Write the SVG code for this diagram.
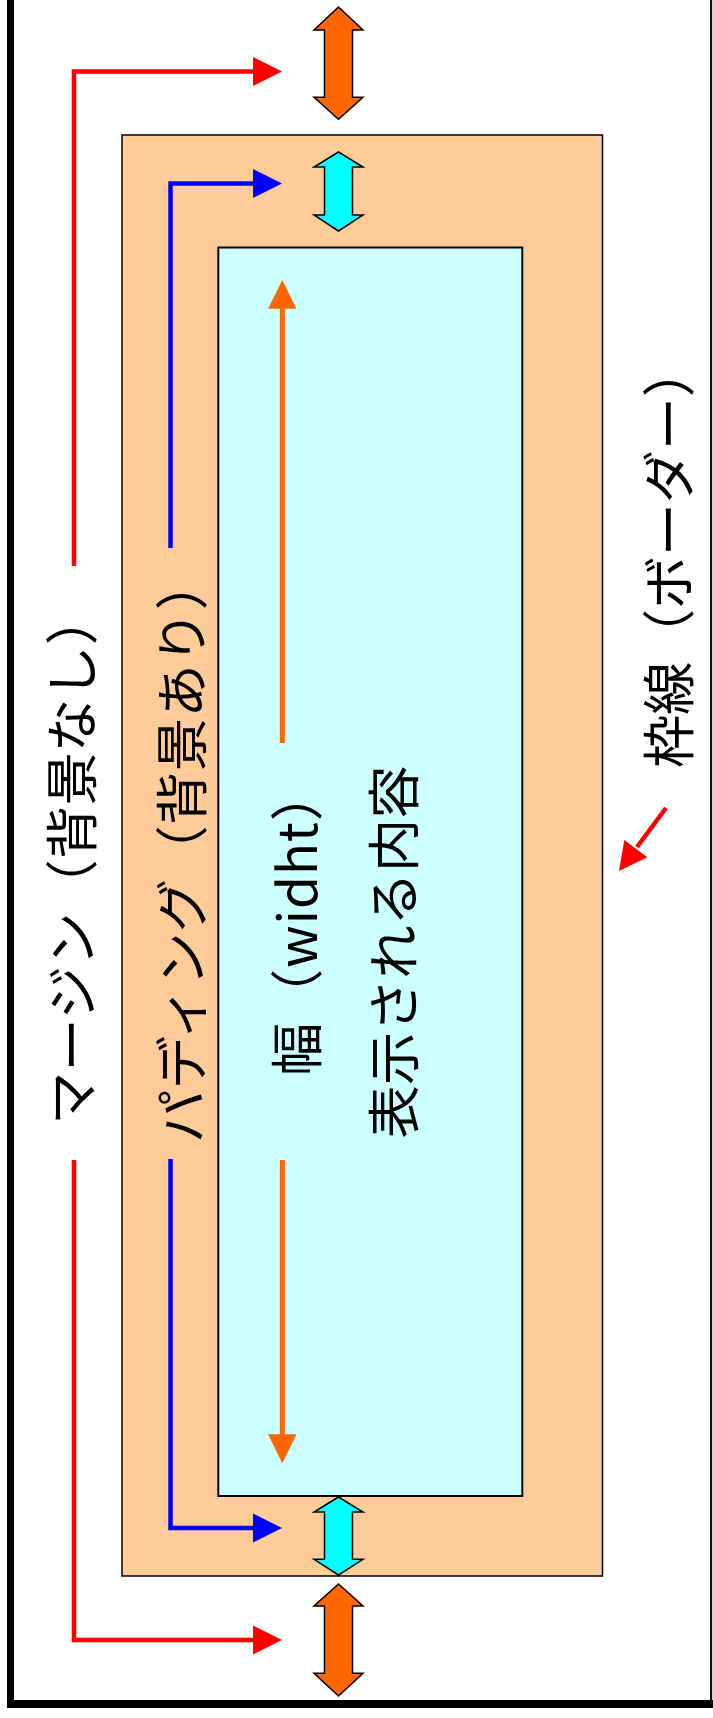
<svg xmlns="http://www.w3.org/2000/svg" width="713" height="1718" viewBox="0 0 713 1718">
<style>
.lbl{font-family:"Noto Sans CJK JP","Noto Sans",sans-serif;font-size:53.3px;fill:#000;text-anchor:middle}
.red{stroke:#FF0000;stroke-width:4.5;fill:none}
.redh{fill:#FF0000}
.blue{stroke:#0000FF;stroke-width:4.5;fill:none}
.blueh{fill:#0000FF}
.org{stroke:#FF6600;stroke-width:5;fill:none}
.orgh{fill:#FF6600}
.dbl-o{fill:#FF6600;stroke:#000;stroke-width:1.5;stroke-linejoin:miter}
.dbl-c{fill:#00FFFF;stroke:#000;stroke-width:1.5;stroke-linejoin:miter}
</style>
<rect x="0" y="0" width="713" height="1718" fill="#FFFFFF"/>
<g id="frame">
  <rect x="7" y="0" width="7" height="1708" fill="#000"/>
  <rect x="7" y="1700" width="706" height="8" fill="#000"/>
  <rect x="710" y="0" width="2.2" height="1704" fill="#111"/>
</g>
<g id="padding-box">
  <rect x="122" y="135" width="480.5" height="1441" fill="#FFCC99" stroke="#000" stroke-width="1.5"/>
</g>
<g id="content-box">
  <rect x="218.3" y="247.5" width="304" height="1248.5" fill="#CCFFFF" stroke="#000" stroke-width="2"/>
</g>
<g id="connectors">
  <path class="red" d="M74 566 V71.5 H256"/>
  <polygon class="redh" points="253,57 282,71.5 253,86"/>
  <path class="red" d="M74 1160 V1640 H256"/>
  <polygon class="redh" points="253,1625.5 282,1640 253,1654.5"/>
  <path class="blue" d="M170.5 548 V183.5 H256"/>
  <polygon class="blueh" points="253,169 282,183.5 253,198"/>
  <path class="blue" d="M170.5 1159 V1528 H256"/>
  <polygon class="blueh" points="253,1513.5 282,1528 253,1542.5"/>
  <path class="org" d="M282.3 306 V743"/>
  <polygon class="orgh" points="282.3,280 296.5,308.7 268.1,308.7"/>
  <path class="org" d="M282.3 1160 V1437"/>
  <polygon class="orgh" points="268.1,1434.3 296.5,1434.3 282.3,1463.3"/>
  <path class="red" d="M666 808 L637 847" stroke-width="5"/>
  <polygon class="redh" points="619,871 624.3,840 647.3,857.3"/>
</g>
<g id="margin-arrows">
  <polygon class="dbl-o" points="338.5,7 363,30 352.5,30 352.5,97.3 363,97.3 338.5,119.3 314,97.3 324.5,97.3 324.5,30 314,30"/>
  <polygon class="dbl-o" points="338.5,1584 363,1606 352.5,1606 352.5,1673.3 363,1673.3 338.5,1696 314,1673.3 324.5,1673.3 324.5,1606 314,1606"/>
</g>
<g id="padding-arrows">
  <polygon class="dbl-c" points="338.5,152 363,167 352.5,167 352.5,215 363,215 338.5,231 314,215 324.5,215 324.5,167 314,167"/>
  <polygon class="dbl-c" points="338.5,1497 363,1512 352.5,1512 352.5,1559.3 363,1559.3 338.5,1575 314,1559.3 324.5,1559.3 324.5,1512 314,1512"/>
</g>
<g id="label-margin">
  <text class="lbl" transform="translate(92,858.5) rotate(-90)" textLength="533" lengthAdjust="spacing">マージン（背景なし）</text>
</g>
<g id="label-padding">
  <text class="lbl" transform="translate(202,850) rotate(-90)" textLength="586" lengthAdjust="spacing">パディング（背景あり）</text>
</g>
<g id="label-width">
  <text class="lbl" transform="translate(317,922) rotate(-90)" textLength="308" lengthAdjust="spacing">幅（widht）</text>
</g>
<g id="label-content">
  <text class="lbl" transform="translate(414,952) rotate(-90)" textLength="373" lengthAdjust="spacing">表示される内容</text>
</g>
<g id="label-border">
  <text class="lbl" transform="translate(689,556) rotate(-90)" textLength="424" lengthAdjust="spacing">枠線（ボーダー）</text>
</g>
</svg>
